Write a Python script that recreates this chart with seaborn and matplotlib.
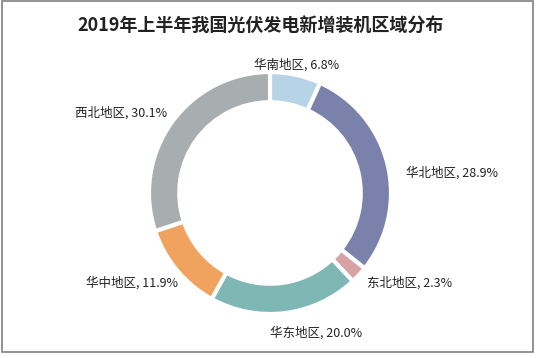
import matplotlib
matplotlib.use("Agg")
import matplotlib.pyplot as plt
import seaborn as sns
from matplotlib.patches import Rectangle

# data (clockwise from the top)
regions = ["华南地区", "华北地区", "东北地区", "华东地区", "华中地区", "西北地区"]
shares = [6.8, 28.9, 2.3, 20.0, 11.9, 30.1]
colors = ["#B6D4E6", "#7A82AB", "#D6A2A4", "#7FB7B5", "#F0A35E", "#A8ADAF"]
title = "2019年上半年我国光伏发电新增装机区域分布"

# label placement (in pie radius units) and alignment, like the excel "best fit"
label_pos = [(0.22, 1.06), (1.12, 0.17), (0.80, -0.74), (0.38, -1.16), (-0.76, -0.74), (-0.85, 0.66)]
label_ha = ["center", "left", "left", "center", "right", "right"]

sns.set_theme(style="white")
plt.rcParams["font.family"] = ["Noto Sans CJK SC", "DejaVu Sans"]

W, H = 539, 358
fig = plt.figure(figsize=(W / 100, H / 100), dpi=100)
ax = fig.add_axes([0, 0, 1, 1])

ax.pie(shares, colors=colors, startangle=90, counterclock=False, radius=1.0,
       wedgeprops=dict(width=0.25, edgecolor="white", linewidth=3))

for name, val, (x, y), ha in zip(regions, shares, label_pos, label_ha):
    ax.text(x, y, f"{name}, {val:.1f}%", ha=ha, va="center", fontsize=9, color="#222222")

# pie centre at (270, 193) px, radius 121 px
cx, cy, r = 270, 193, 121
ax.set_aspect("auto")
ax.set_xlim(-cx / r, (W - cx) / r)
ax.set_ylim(-(H - cy) / r, cy / r)
ax.axis("off")

fig.text(261 / W, 1 - 25 / H, title, ha="center", va="center", fontsize=13, fontweight="bold", color="#222222")

# grey frame round the picture
fig.patches.append(Rectangle((2 / W, 1 - 352 / H), 531 / W, 351 / H, transform=fig.transFigure,
                             fill=False, edgecolor="#808080", linewidth=1.2))

fig.savefig("out.png", dpi=100)
